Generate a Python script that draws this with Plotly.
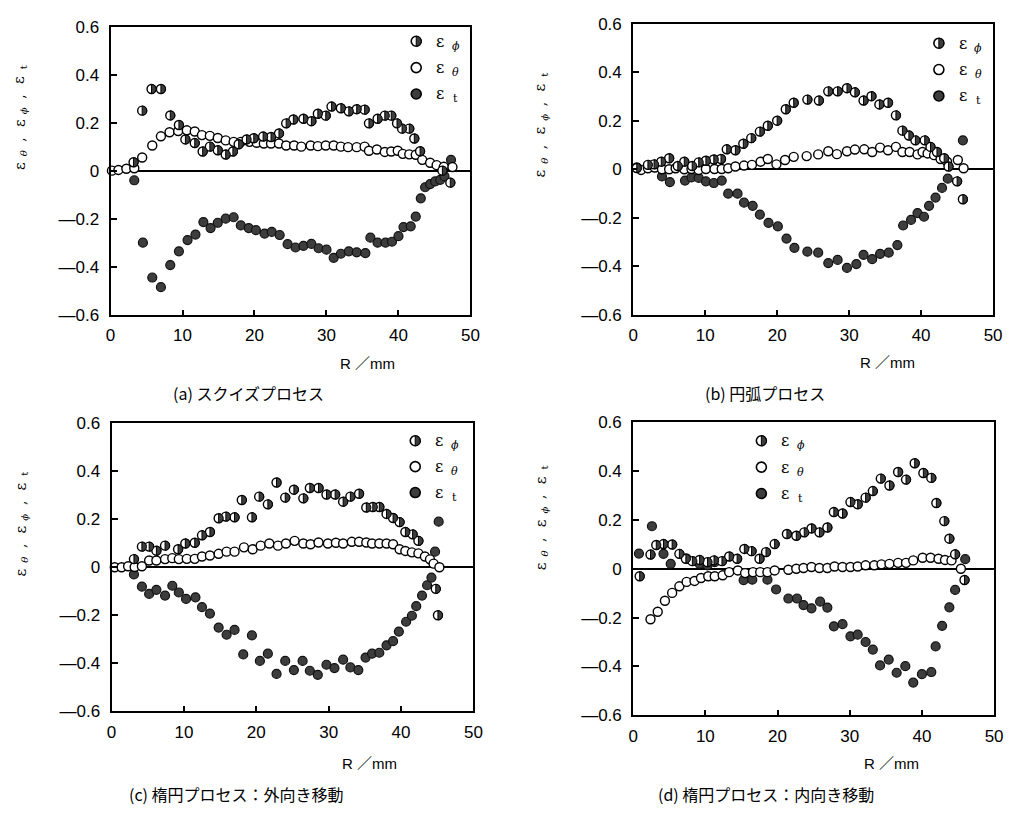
import plotly.graph_objects as go

W, H = 1010, 820

# ---------------- data (R in mm, strains) ----------------
# (a) squeeze process
a_phi_r = [3.2, 4.4, 5.7, 7.0, 8.3, 9.5, 10.4, 11.7, 12.8, 13.8, 14.9, 16.0, 17.0, 17.8, 18.9, 19.9, 21.2, 22.3, 23.4, 24.4,
           25.4, 26.8, 27.9, 28.8, 29.9, 30.7, 32.0, 33.1, 34.2, 35.3, 35.9, 37.1, 38.1, 39.0, 39.8, 40.5, 41.5, 42.2, 43.0, 46.1, 47.2]
a_phi = [0.035, 0.25, 0.34, 0.34, 0.23, 0.19, 0.13, 0.115, 0.08, 0.10, 0.085, 0.067, 0.08, 0.11, 0.13, 0.135, 0.142, 0.14, 0.155, 0.197,
         0.213, 0.216, 0.206, 0.237, 0.229, 0.267, 0.26, 0.247, 0.256, 0.254, 0.197, 0.216, 0.229, 0.229, 0.197, 0.175, 0.175, 0.134, 0.081, 0.0, -0.05]
a_theta_r = [0.2, 1.1, 2.2, 3.3, 4.4, 5.8, 7.0, 8.2, 9.4, 10.6, 11.7, 12.7, 13.8, 14.9, 16.0, 17.1, 18.1, 19.3, 20.3, 21.3,
             22.3, 23.4, 24.4, 25.5, 26.5, 27.8, 28.8, 29.9, 31.0, 32.0, 33.0, 34.2, 35.3, 35.9, 37.0, 38.1, 39.0, 39.9, 40.6, 41.5,
             42.4, 43.3, 44.4, 45.3, 46.3, 47.5]
a_theta = [0.0, 0.003, 0.008, 0.01, 0.055, 0.105, 0.143, 0.16, 0.165, 0.168, 0.163, 0.148, 0.145, 0.136, 0.126, 0.12, 0.12, 0.12, 0.116, 0.113,
           0.113, 0.113, 0.105, 0.105, 0.1, 0.105, 0.102, 0.105, 0.105, 0.1, 0.098, 0.098, 0.1, 0.083, 0.088, 0.078, 0.08, 0.083, 0.07, 0.068,
           0.066, 0.045, 0.033, 0.023, 0.016, 0.015]
a_t_r = [3.3, 4.5, 5.8, 7.0, 8.3, 9.5, 10.7, 11.8, 12.9, 13.9, 14.9, 16.0, 17.1, 18.1, 19.2, 20.2, 21.4, 22.4, 23.5, 24.6,
         25.7, 26.8, 27.9, 28.9, 30.0, 31.0, 32.0, 33.1, 34.2, 35.4, 36.1, 37.1, 38.2, 39.1, 40.0, 40.7, 41.7, 42.4, 43.1, 43.7,
         44.4, 45.1, 45.8, 46.4, 47.3]
a_t = [-0.04, -0.30, -0.445, -0.485, -0.393, -0.336, -0.289, -0.266, -0.214, -0.239, -0.217, -0.2, -0.194, -0.228, -0.239, -0.248, -0.262, -0.255, -0.268, -0.306,
       -0.32, -0.313, -0.305, -0.323, -0.329, -0.363, -0.346, -0.336, -0.34, -0.343, -0.279, -0.3, -0.3, -0.296, -0.273, -0.235, -0.232, -0.191, -0.115, -0.069,
       -0.056, -0.045, -0.038, -0.024, 0.045]

# (b) arc process
b_phi_r = [0.5, 2.05, 2.9, 3.9, 5.0, 6.2, 7.1, 8.2, 9.1, 10.1, 11.2, 12.2, 13.0, 14.2, 15.3, 16.4, 17.6, 18.7, 20.0, 21.2,
           22.3, 24.2, 25.8, 27.1, 28.4, 29.7, 30.8, 32.0, 33.1, 34.2, 35.4, 36.5, 37.4, 38.3, 39.2, 40.5, 41.3, 42.2, 43.2, 43.8,
           45.0, 45.8]
b_phi = [0.005, 0.018, 0.02, 0.031, 0.045, 0.013, 0.031, 0.013, 0.028, 0.035, 0.04, 0.042, 0.082, 0.078, 0.105, 0.128, 0.155, 0.179, 0.2, 0.247,
         0.274, 0.287, 0.283, 0.321, 0.321, 0.334, 0.317, 0.283, 0.301, 0.267, 0.274, 0.222, 0.159, 0.139, 0.119, 0.119, 0.092, 0.071, 0.045, 0.011,
         -0.05, -0.124]
b_theta_r = [0.5, 1.1, 2.05, 3.0, 4.0, 5.0, 5.9, 7.1, 8.1, 9.1, 10.1, 11.3, 12.3, 13.2, 14.2, 15.4, 16.5, 17.7, 18.7, 19.9,
             21.1, 22.3, 24.1, 25.7, 27.1, 28.3, 29.7, 30.8, 32.1, 33.2, 34.3, 35.4, 36.5, 37.4, 38.4, 39.5, 40.2, 40.9, 41.8, 42.7,
             43.6, 45.1, 45.9]
b_theta = [0.007, -0.003, 0.004, 0.007, 0.0, 0.0, 0.004, 0.0, 0.001, -0.003, 0.001, 0.001, 0.001, 0.004, 0.011, 0.015, 0.018, 0.031, 0.042, 0.02,
           0.038, 0.051, 0.054, 0.061, 0.074, 0.062, 0.074, 0.081, 0.082, 0.071, 0.089, 0.078, 0.092, 0.071, 0.071, 0.061, 0.071, 0.065, 0.058, 0.042,
           0.031, 0.038, 0.004]
b_t_r = [4.0, 5.1, 7.2, 8.1, 9.1, 10.1, 11.2, 12.3, 13.2, 14.5, 15.4, 16.6, 17.6, 18.8, 20.1, 21.3, 22.4, 24.2, 25.7, 27.1,
         28.4, 29.7, 31.0, 32.0, 33.2, 34.3, 35.5, 36.7, 37.5, 38.6, 39.5, 40.4, 41.1, 42.0, 42.9, 43.7, 45.8]
b_t = [-0.03, -0.053, -0.047, -0.034, -0.036, -0.05, -0.057, -0.047, -0.101, -0.101, -0.138, -0.151, -0.187, -0.221, -0.236, -0.286, -0.324, -0.34, -0.344, -0.387,
       -0.374, -0.407, -0.391, -0.353, -0.371, -0.349, -0.344, -0.313, -0.232, -0.209, -0.181, -0.196, -0.151, -0.117, -0.077, -0.039, 0.119]

# (c) elliptic process, outward
c_phi_r = [3.1, 4.2, 5.2, 6.2, 7.4, 9.2, 10.2, 11.5, 12.5, 13.6, 14.8, 15.8, 17.0, 18.0, 19.4, 20.4, 21.6, 22.8, 24.0, 25.2,
           26.5, 27.4, 28.6, 29.7, 30.9, 32.0, 33.0, 34.2, 35.2, 36.1, 37.0, 38.0, 38.9, 39.8, 40.6, 41.6, 42.4, 44.8, 45.1]
c_phi = [0.034, 0.086, 0.086, 0.069, 0.09, 0.075, 0.099, 0.102, 0.133, 0.147, 0.204, 0.211, 0.208, 0.28, 0.208, 0.294, 0.262, 0.353, 0.29, 0.323,
         0.287, 0.33, 0.33, 0.303, 0.303, 0.273, 0.294, 0.306, 0.249, 0.251, 0.251, 0.222, 0.205, 0.188, 0.147, 0.137, 0.11, -0.09, -0.2]
c_theta_r = [0.45, 1.4, 2.3, 3.2, 4.2, 5.2, 6.2, 7.4, 8.4, 9.3, 10.4, 11.5, 12.5, 13.6, 14.8, 15.9, 17.0, 18.3, 19.5, 20.6,
             21.8, 23.0, 24.1, 25.3, 26.5, 27.5, 28.6, 29.9, 31.0, 32.0, 33.2, 34.2, 35.2, 36.0, 37.0, 38.0, 38.9, 39.8, 40.6, 41.5,
             42.4, 43.3, 44.0, 44.5, 45.3]
c_theta = [0.0, 0.0, 0.004, 0.001, 0.004, 0.028, 0.028, 0.034, 0.038, 0.034, 0.035, 0.035, 0.045, 0.049, 0.056, 0.065, 0.065, 0.083, 0.075, 0.09,
           0.099, 0.09, 0.099, 0.11, 0.099, 0.096, 0.103, 0.099, 0.102, 0.099, 0.106, 0.106, 0.103, 0.099, 0.099, 0.099, 0.096, 0.075, 0.068, 0.062,
           0.058, 0.045, 0.033, 0.015, 0.0]
c_t_r = [3.1, 4.2, 5.2, 6.2, 7.4, 8.4, 9.3, 10.3, 11.6, 12.5, 13.6, 14.8, 15.9, 17.0, 18.2, 19.4, 20.5, 21.6, 22.8, 24.0,
         25.2, 26.4, 27.4, 28.5, 29.7, 30.8, 32.0, 33.0, 34.1, 35.1, 36.0, 37.0, 38.0, 38.9, 39.7, 40.7, 41.5, 42.1, 42.9, 43.6,
         44.2, 44.7, 45.2]
c_t = [-0.03, -0.081, -0.111, -0.094, -0.118, -0.077, -0.105, -0.132, -0.125, -0.166, -0.193, -0.251, -0.281, -0.261, -0.363, -0.284, -0.39, -0.36, -0.444, -0.39,
       -0.428, -0.39, -0.431, -0.448, -0.406, -0.42, -0.385, -0.417, -0.428, -0.376, -0.36, -0.356, -0.325, -0.308, -0.268, -0.227, -0.202, -0.162, -0.118, -0.075,
       -0.043, 0.065, 0.19]

# (d) elliptic process, inward
d_phi_r = [0.9, 2.4, 3.2, 4.2, 5.4, 6.4, 7.3, 8.2, 9.2, 10.3, 11.2, 12.3, 13.3, 14.4, 15.4, 16.4, 17.5, 18.4, 19.6, 21.3,
           22.6, 23.7, 24.7, 25.8, 26.9, 27.8, 29.0, 30.1, 31.1, 32.2, 33.2, 34.3, 35.5, 36.7, 37.8, 39.0, 40.2, 41.3, 42.0, 43.1,
           43.8, 44.6, 45.9]
d_phi = [-0.031, 0.058, 0.097, 0.101, 0.099, 0.061, 0.041, 0.031, 0.036, 0.027, 0.034, 0.031, 0.05, 0.041, 0.081, 0.072, 0.041, 0.068, 0.101, 0.142,
         0.135, 0.149, 0.165, 0.149, 0.169, 0.232, 0.226, 0.273, 0.264, 0.291, 0.318, 0.369, 0.341, 0.396, 0.365, 0.432, 0.392, 0.372, 0.269, 0.195,
         0.123, 0.059, -0.046]
d_theta_r = [2.4, 3.4, 4.4, 5.4, 6.4, 7.4, 8.5, 9.4, 10.4, 11.3, 12.4, 13.3, 14.5, 15.5, 16.6, 17.6, 18.6, 19.6, 21.5, 22.6,
             23.6, 24.7, 25.8, 26.9, 27.9, 29.0, 30.1, 31.1, 32.2, 33.4, 34.4, 35.5, 36.7, 37.8, 38.8, 40.1, 41.2, 42.3, 43.2, 44.1,
             45.4]
d_theta = [-0.207, -0.176, -0.131, -0.099, -0.072, -0.054, -0.05, -0.038, -0.031, -0.031, -0.027, -0.014, -0.007, -0.018, -0.014, -0.014, -0.014, -0.007, -0.004, 0.0,
           0.003, 0.007, 0.003, 0.003, 0.009, 0.007, 0.007, 0.009, 0.014, 0.014, 0.018, 0.02, 0.024, 0.024, 0.034, 0.045, 0.045, 0.041, 0.036, 0.034,
           0.0]
d_t_r = [0.8, 2.6, 4.2, 5.2, 7.4, 9.2, 10.3, 11.3, 15.3, 16.5, 18.6, 19.8, 21.5, 22.7, 23.6, 24.7, 25.9, 26.9, 27.8, 29.0,
         30.1, 31.1, 32.2, 33.2, 34.2, 35.4, 36.5, 37.7, 38.8, 40.0, 41.3, 41.9, 42.8, 43.8, 44.6, 46.0]
d_t = [0.062, 0.174, 0.061, 0.02, 0.041, 0.02, 0.014, 0.027, -0.047, -0.045, -0.045, -0.085, -0.122, -0.122, -0.149, -0.162, -0.135, -0.159, -0.236, -0.227,
       -0.277, -0.27, -0.3, -0.331, -0.396, -0.372, -0.426, -0.399, -0.466, -0.432, -0.423, -0.318, -0.234, -0.158, -0.087, 0.039]

captions = ["(a) スクイズプロセス", "(b) 円弧プロセス",
            "(c) 楕円プロセス：外向き移動", "(d) 楕円プロセス：内向き移動"]
x_ticks = [0, 10, 20, 30, 40, 50]
y_ticks = [-0.6, -0.4, -0.2, 0, 0.2, 0.4, 0.6]
y_ticktext = ["—0.6", "—0.4", "—0.2", "0", "0.2", "0.4", "0.6"]
legend_subs = ["ϕ", "θ", "t"]
x_title = "R ／mm"

# ---------------- layout geometry (pixels) ----------------
panels = [
    dict(box=(107, 472, 18, 313), phi=(a_phi_r, a_phi), theta=(a_theta_r, a_theta), t=(a_t_r, a_t),
         leg=(417, 33, 27), ytitle=(15, 111), xtitle=(368, 363), cap=(247, 393)),
    dict(box=(637, 1002, 15, 313), phi=(b_phi_r, b_phi), theta=(b_theta_r, b_theta), t=(b_t_r, b_t),
         leg=(947, 35, 27), ytitle=(543, 118), xtitle=(895, 362), cap=(771, 393)),
    dict(box=(108, 475, 424, 719), phi=(c_phi_r, c_phi), theta=(c_theta_r, c_theta), t=(c_t_r, c_t),
         leg=(416, 442, 26.5), ytitle=(16, 527), xtitle=(370, 772), cap=(235, 804)),
    dict(box=(637, 1003, 423, 723), phi=(d_phi_r, d_phi), theta=(d_theta_r, d_theta), t=(d_t_r, d_t),
         leg=(767, 442, 27), ytitle=(543, 520), xtitle=(899, 772), cap=(772, 804)),
]

# rotated y-title pieces: (text, offset along axis in px (+ = down), offset across (+ = right), size, italic)
ytitle_pieces = [("ε", 50, 0, 15, False), ("θ", 37, 4, 10, True), (",", 23, 0, 14, False),
                 ("ε", 6, 0, 15, False), ("ϕ", -7, 4, 10, True), (",", -21, 0, 14, False),
                 ("ε", -38, 0, 15, False), ("t", -51, 4, 10, False)]

DARK = "#3d3d3d"
MS = 9
R = 4.6
K = 0.5523 * R


def half_path(r):
    k = 0.5523 * r
    return f"M0,{r} C{k:.3f},{r} {r},{k:.3f} {r},0 C{r},{-k:.3f} {k:.3f},{-r} 0,{-r} Z"


def px(x):
    return x / W


def py(y):
    return 1 - y / H


fig = go.Figure()
shapes = []
annotations = []
layout_axes = {}
tickfont = dict(family="Liberation Sans, Arial, sans-serif", size=17, color="black")
serif = "DejaVu Serif, Liberation Serif, serif"

for i, p in enumerate(panels):
    n = "" if i == 0 else str(i + 1)
    xa, ya = "x" + n, "y" + n
    x0, x1, y0, y1 = p["box"]
    layout_axes["xaxis" + n] = dict(
        domain=[px(x0), px(x1)], anchor=ya, range=[0, 50], tickvals=x_ticks,
        ticks="inside", ticklen=5, tickwidth=1.5, tickcolor="black",
        showline=True, linewidth=2, linecolor="black", mirror=True,
        showgrid=False, zeroline=False, tickfont=tickfont, ticklabelstandoff=4)
    layout_axes["yaxis" + n] = dict(
        domain=[py(y1), py(y0)], anchor=xa, range=[-0.6, 0.6], tickvals=y_ticks, ticktext=y_ticktext,
        ticks="inside", ticklen=6, tickwidth=1.5, tickcolor="black",
        showline=True, linewidth=2, linecolor="black", mirror=True,
        showgrid=False, zeroline=True, zerolinecolor="black", zerolinewidth=1.5,
        tickfont=tickfont, ticklabelstandoff=6)

    tr, tv = p["t"]
    fig.add_trace(go.Scatter(x=tr, y=tv, mode="markers", xaxis=xa, yaxis=ya, cliponaxis=False,
                             marker=dict(symbol="circle", size=MS, color=DARK, line=dict(color="#111", width=1.2)),
                             showlegend=False, name="εt"))
    thr, thv = p["theta"]
    fig.add_trace(go.Scatter(x=thr, y=thv, mode="markers", xaxis=xa, yaxis=ya, cliponaxis=False,
                             marker=dict(symbol="circle", size=MS, color="white", line=dict(color="black", width=1.4)),
                             showlegend=False, name="εθ"))
    pr, pv = p["phi"]
    fig.add_trace(go.Scatter(x=pr, y=pv, mode="markers", xaxis=xa, yaxis=ya, cliponaxis=False,
                             marker=dict(symbol="circle", size=MS, color="white", line=dict(color="black", width=1.4)),
                             showlegend=False, name="εφ"))
    for r, v in zip(pr, pv):
        shapes.append(dict(type="path", xref=xa, yref=ya, xsizemode="pixel", ysizemode="pixel",
                           xanchor=r, yanchor=v, path=half_path(R), fillcolor=DARK,
                           line=dict(color="black", width=1.0), layer="above"))

    # legend (symbols + labels)
    lx, ly, dy = p["leg"]
    for j in range(3):
        yy = ly + j * dy
        fill = "white" if j < 2 else DARK
        shapes.append(dict(type="circle", xref="paper", yref="paper", xsizemode="pixel", ysizemode="pixel",
                           xanchor=px(lx), yanchor=py(yy), x0=-5, x1=5, y0=-5, y1=5,
                           fillcolor=fill, line=dict(color="black", width=1.6)))
        if j == 0:
            shapes.append(dict(type="path", xref="paper", yref="paper", xsizemode="pixel", ysizemode="pixel",
                               xanchor=px(lx), yanchor=py(yy), path=half_path(5),
                               fillcolor=DARK, line=dict(color="black", width=1.0)))
        annotations.append(dict(xref="paper", yref="paper", x=px(lx + 24), y=py(yy), xanchor="center", yanchor="middle",
                                text="ε", showarrow=False,
                                font=dict(family=serif, size=16, color="black")))
        annotations.append(dict(xref="paper", yref="paper", x=px(lx + 40), y=py(yy + 5), xanchor="center", yanchor="middle",
                                text=legend_subs[j], showarrow=False,
                                font=dict(family=serif, size=11, color="black",
                                          style="italic" if j < 2 else "normal")))

    # rotated y-axis title built from pieces
    tx, ty = p["ytitle"]
    for txt, off, acr, sz, it in ytitle_pieces:
        annotations.append(dict(xref="paper", yref="paper", x=px(tx + acr), y=py(ty + off),
                                xanchor="center", yanchor="middle", text=txt, textangle=-90, showarrow=False,
                                font=dict(family=serif, size=sz, color="black",
                                          style="italic" if it else "normal")))

    xx, xy = p["xtitle"]
    annotations.append(dict(xref="paper", yref="paper", x=px(xx), y=py(xy), xanchor="center", yanchor="middle",
                            text=x_title, showarrow=False,
                            font=dict(family="Liberation Sans, Noto Sans CJK JP", size=15, color="black")))
    cx, cy = p["cap"]
    annotations.append(dict(xref="paper", yref="paper", x=px(cx), y=py(cy), xanchor="center", yanchor="middle",
                            text=captions[i], showarrow=False,
                            font=dict(family="Noto Sans CJK JP", size=16, color="black")))

fig.update_layout(width=W, height=H, margin=dict(l=0, r=0, t=0, b=0),
                  paper_bgcolor="white", plot_bgcolor="white",
                  shapes=shapes, annotations=annotations, showlegend=False, **layout_axes)

fig.write_html("out.html", config={"displayModeBar": False},
               post_script="document.body.style.margin='0px';")
